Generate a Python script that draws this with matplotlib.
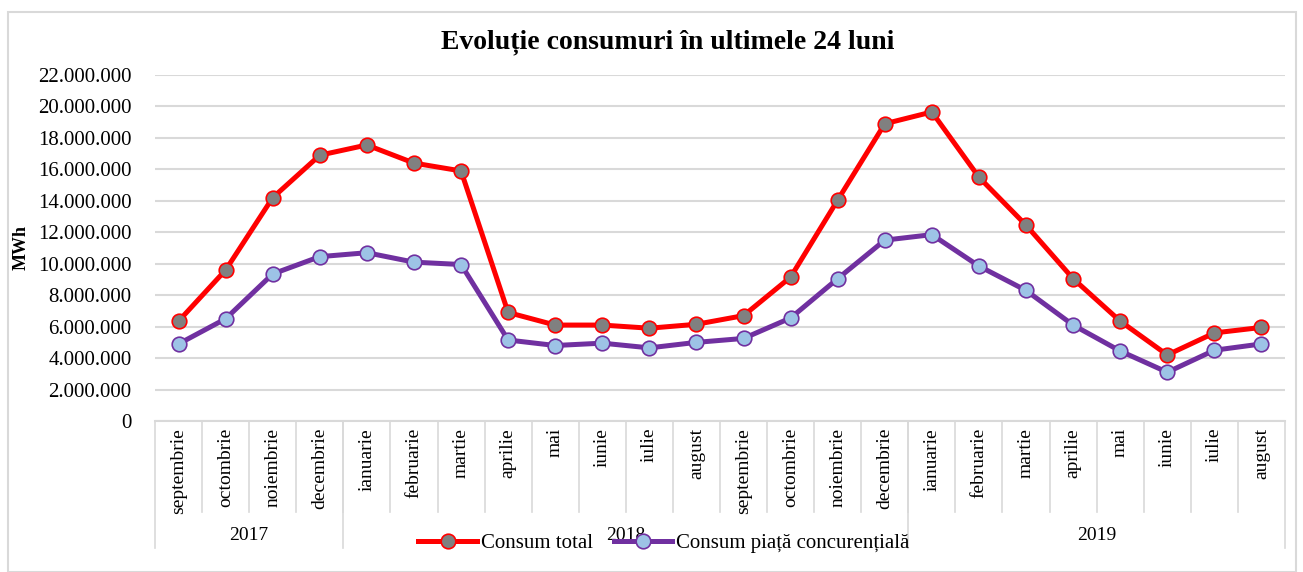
import matplotlib.pyplot as plt
from matplotlib.patches import Rectangle
from matplotlib.ticker import FuncFormatter, MultipleLocator

MONTHS = ["septembrie", "octombrie", "noiembrie", "decembrie",
          "ianuarie", "februarie", "martie", "aprilie", "mai", "iunie", "iulie", "august",
          "septembrie", "octombrie", "noiembrie", "decembrie",
          "ianuarie", "februarie", "martie", "aprilie", "mai", "iunie", "iulie", "august"]
YEARS = ["2017", "2018", "2019"]
YEAR_SPANS = [(0, 4), (4, 16), (16, 24)]  # [start, end) month index per year

CONSUM_TOTAL = [6.35, 9.6, 14.2, 16.9, 17.55, 16.4, 15.9, 6.9, 6.1, 6.1, 5.9, 6.15,
                6.7, 9.15, 14.05, 18.9, 19.65, 15.5, 12.45, 9.05, 6.35, 4.2, 5.6, 5.95]
CONSUM_PIATA = [4.9, 6.5, 9.35, 10.45, 10.7, 10.1, 9.95, 5.15, 4.8, 4.95, 4.65, 5.0,
                5.25, 6.55, 9.05, 11.5, 11.85, 9.85, 8.3, 6.1, 4.45, 3.1, 4.5, 4.9]

W, H = 1303, 572
SERIF = "Liberation Serif"
GRID = "#d9d9d9"

plt.rcParams["font.family"] = [SERIF, "DejaVu Serif"]

fig = plt.figure(figsize=(W / 100, H / 100), dpi=100)
ax = fig.add_axes([155 / W, 1 - 421 / H, (1285 - 155) / W, (421 - 75) / H])

x = list(range(len(MONTHS)))
total = [v * 1e6 for v in CONSUM_TOTAL]
piata = [v * 1e6 for v in CONSUM_PIATA]

ax.plot(x, total, color="#ff0000", lw=3.6, marker="o", ms=10.5,
        mfc="#808080", mec="#ff0000", mew=1.2, label="Consum total", zorder=3)
ax.plot(x, piata, color="#7030a0", lw=3.6, marker="o", ms=10.5,
        mfc="#9dc3e6", mec="#7030a0", mew=1.2, label="Consum piață concurențială", zorder=3)

ax.set_xlim(-0.5, len(MONTHS) - 0.5)
ax.set_ylim(0, 22e6)
ax.yaxis.set_major_locator(MultipleLocator(2e6))
ax.yaxis.set_major_formatter(FuncFormatter(lambda v, p: f"{int(v):,}".replace(",", ".")))
ax.grid(axis="y", color=GRID, lw=1.5)
ax.set_axisbelow(True)
for s in ["top", "right", "left"]:
    ax.spines[s].set_visible(False)
ax.spines["bottom"].set_color(GRID)
ax.spines["bottom"].set_linewidth(1.5)
ax.tick_params(axis="y", length=0, labelsize=15, pad=17)
ax.tick_params(axis="x", length=0)
ax.set_xticks([])

ax.set_ylabel("MWh", fontsize=13, fontweight="bold", labelpad=6)

# multi-level category axis
trans = ax.get_xaxis_transform()
h_px = 421 - 75
month_bottom = -(512 - 421) / h_px
year_bottom = -(548 - 421) / h_px
for i, m in enumerate(MONTHS):
    ax.text(i, -(428 - 421) / h_px, m, transform=trans, rotation=90,
            ha="center", va="top", fontsize=14)
for i in range(1, len(MONTHS)):
    ax.plot([i - 0.5, i - 0.5], [0, month_bottom], transform=trans,
            color=GRID, lw=1.2, clip_on=False)
for (a, b), yr in zip(YEAR_SPANS, YEARS):
    ax.plot([a - 0.5, a - 0.5], [0, year_bottom], transform=trans,
            color=GRID, lw=1.2, clip_on=False)
    ax.text((a + b - 1) / 2, -(535 - 421) / h_px, yr, transform=trans,
            ha="center", va="center", fontsize=14)
ax.plot([len(MONTHS) - 0.5] * 2, [0, year_bottom], transform=trans,
        color=GRID, lw=1.2, clip_on=False)

fig.text(668 / W, 1 - 42 / H, "Evoluție consumuri în ultimele 24 luni",
         ha="center", va="center", fontsize=20, fontweight="bold")

fig.legend(loc="center", bbox_to_anchor=(664 / W, 1 - 543 / H), ncol=2,
           frameon=False, fontsize=15, handlelength=2.8, columnspacing=1.0,
           handletextpad=0.2)

fig.patches.append(Rectangle((8 / W, 0), (1296 - 8) / W, 1 - 12 / H,
                             transform=fig.transFigure, fill=False,
                             edgecolor=GRID, lw=1.5))

fig.savefig("out.png", dpi=100)
